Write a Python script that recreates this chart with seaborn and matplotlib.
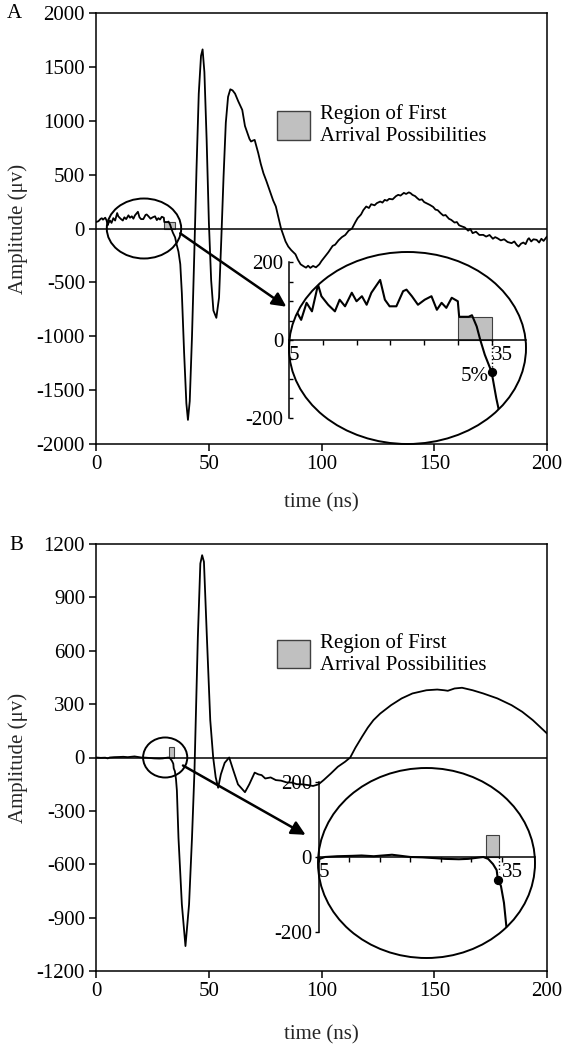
import matplotlib
matplotlib.use("Agg")
import matplotlib.pyplot as plt
import seaborn as sns
from matplotlib.patches import Ellipse, Rectangle, Patch

# ────────── data (time in ns, amplitude in µV) ────────────────────────────────
time_a = [0, 1, 2, 2.5, 3, 4, 4.6,
          5.1, 5.4, 6.1, 6.8, 7.6, 8.4, 9.3, 9.8, 10.8, 11.8, 12.5, 13.3, 14.3, 15,
          15.8, 16.5, 17.2, 18.5, 19.2, 19.9, 20.9, 21.9, 22.4, 23.2, 24.1, 25.1,
          26.1, 26.9, 27.6, 28.3, 29.1, 30.0, 30.2, 31.6, 32.1, 32.8, 33.3, 34.0,
          35.0, 35.7, 36.5, 37.3, 38, 39, 40, 40.7, 41.5, 42.5, 43.5, 44.5, 45.5,
          46.5, 47.2, 48, 49, 50, 51, 52, 53.3, 54.5, 55.5, 56.5, 57.5, 58.5, 59.5,
          60.5, 61.6, 63, 64.8, 66, 67.1, 68, 68.7, 69.5, 70.3, 71.1, 71.9, 73,
          74.2, 75.5, 77.4, 78.5, 79.7, 81, 82, 83, 84, 85.2, 86.5, 88.4, 89.5,
          90.7, 92, 93.1, 94, 95, 96.2, 97.5, 99, 100, 101.7, 103, 104.9, 106,
          107.5, 109, 110.5, 112, 113.5, 115, 116, 117.5, 118.5, 119.8, 121, 122,
          123.5, 124.5, 126, 127, 128, 129, 130, 131.5, 133, 134, 135, 136.5,
          137.5, 138.7, 139.5, 140.3, 141.5, 142.5, 143.4, 144.5, 145.5, 147, 148,
          149.5, 150.5, 151.5, 152.8, 154, 155, 156.5, 157.5, 159, 160, 161, 162.3,
          163.5, 165, 166, 167, 168.5, 170, 171.7, 173, 174.5, 176, 177, 178,
          179.5, 181, 182.5, 184.3, 185.5, 186.5, 187.4, 188.5, 189.5, 190.5,
          191.5, 192, 193, 194, 195.4, 196.5, 197.5, 198.5, 200]
amp_a = [60, 68, 90, 95, 82, 100, 75,
         30, 48, 74, 52, 96, 74, 143, 113, 91, 74, 104, 87, 122, 100,
         113, 91, 122, 155, 104, 87, 87, 126, 130, 113, 91, 104,
         113, 78, 96, 83, 109, 100, 60, 60, 64, 35, 2, -38,
         -82, -150, -215, -330, -600, -1150, -1620, -1774, -1600, -1000, -250, 550, 1250,
         1600, 1660, 1450, 820, 50, -480, -760, -828, -640, -100, 480, 980, 1220, 1290,
         1280, 1250, 1180, 1099, 950, 883, 830, 806, 815, 821, 760, 698, 600,
         512, 440, 327, 260, 204, 90, 0, -60, -120, -167, -200, -239, -290,
         -332, -350, -363, -345, -365, -347, -360, -332, -300, -254, -220, -161, -150,
         -110, -80, -60, -20, 0, 60, 96, 130, 170, 204, 190, 225,
         215, 235, 250, 240, 265, 258, 275, 270, 300, 312, 305, 330,
         320, 335, 327, 312, 300, 280, 265, 270, 245, 230, 219,
         200, 175, 170, 142, 120, 125, 90, 80, 55, 60, 30, 19,
         10, -20, -5, -43, -30, -60, -59, -75, -60, -95, -80, -90,
         -110, -100, -125, -136, -120, -150, -167, -140, -130, -145,
         -100, -90, -120, -100, -105, -130, -95, -115, -74]

time_b = [0, 2, 4, 5.1, 6, 8, 10.4, 12, 14, 17, 18, 20, 22, 24, 25.7, 28, 29.5,
          31, 32, 32.8, 33.6, 34.2, 34.4, 34.9, 35.4, 35.8, 36.5, 38, 39.6, 41.2,
          42.5, 43.6, 45.1, 46.2, 47, 47.8, 49.1, 50.6, 51.9, 53, 54.1, 55.3, 57,
          59, 60.8, 62.9, 66, 67.9, 70.3, 72, 73.4, 75, 77.4, 79.7, 82, 84.5, 86.8,
          89, 91.5, 94, 96.2, 98.6, 100.9, 104.1, 107.2, 110.4, 112.7, 115, 118,
          120.5, 123, 126, 130.8, 135.5, 140.3, 146.5, 151.3, 154.4, 156, 159,
          162.3, 167, 171.7, 178, 184.3, 189, 193.7, 196.9, 200]
amp_b = [0, -2, -1, -5, 0, 2, 3, 4, 2, 6, 4, 0, -1, -3, -5, -6, -5,
         -2, 0, -5, -19, -35, -61, -77, -122, -186, -451, -825, -1060, -825,
         -451, -76, 678, 1090, 1137, 1100, 678, 210, 0, -110, -170, -95, -30,
         0, -71, -151, -195, -151, -85, -95, -99, -118, -112, -127, -130, -140, -141,
         -150, -151, -155, -160, -151, -127, -90, -52, -24, 0, 55, 118,
         168, 210, 247, 294, 332, 360, 378, 382, 378, 375, 388,
         392, 378, 360, 332, 294, 257, 210, 172, 135]

# region of first arrival possibilities: (start, width, height)
region_a = (30, 5, 59)
region_b = (32.5, 2.1, 58)
# 5 % threshold point on each trace
pick_a = (35, -82)
pick_b = (34.4, -61)

x_ticks = [0, 50, 100, 150, 200]
y_ticks_a = [-2000, -1500, -1000, -500, 0, 500, 1000, 1500, 2000]
y_ticks_b = [-1200, -900, -600, -300, 0, 300, 600, 900, 1200]
inset_xticks = [5, 10, 15, 20, 25, 30, 35]
inset_xlabels = ["5", "", "", "", "", "", "35"]

LEGEND_LABEL = "Region of First\nArrival Possibilities"
GREY = "#c0c0c0"
EDGE = "#404040"

W, H = 563, 1050
RIGHT = 547  # right edge of the main axes, px


# ────────── helpers ────────────────────────────────────────────────────────────
def px_axes(fig, x0, y0, x1, y1):
    """Axes from pixel box (top-left origin)."""
    return fig.add_axes([x0 / W, 1 - y1 / H, (x1 - x0) / W, (y1 - y0) / H])


def main_panel(ax, t, amp, yticks, region, small_ell, legend_y, xlabel_y):
    sns.lineplot(x=t, y=amp, ax=ax, color="black", linewidth=1.3,
                 estimator=None, sort=False)
    ax.axhline(0, color="black", linewidth=1.1)
    ax.add_patch(Rectangle((region[0], 0), region[1], region[2],
                           facecolor=GREY, edgecolor=EDGE, linewidth=0.8))
    cx, w, h = small_ell
    ax.add_patch(Ellipse((cx, 0), w, h, fill=False, edgecolor="black",
                         linewidth=1.4))
    ax.set_xlim(0, 200)
    ax.set_ylim(yticks[0], yticks[-1])
    ax.set_xticks(x_ticks)
    ax.set_yticks(yticks)
    for s in ax.spines.values():
        s.set_visible(True)
        s.set_linewidth(1.1)
    ax.tick_params(direction="out", length=5, width=1.1, pad=3, labelsize=15)
    ax.set_xlabel("time (ns)", fontsize=15, va="top")
    ax.xaxis.set_label_coords(0.5, xlabel_y)
    ax.set_ylabel("Amplitude (μv)", fontsize=15)
    ax.yaxis.set_label_coords(-0.152, 0.5)
    ax.legend(handles=[Patch(facecolor=GREY, edgecolor=EDGE, linewidth=1)],
              labels=[LEGEND_LABEL], loc="upper left",
              bbox_to_anchor=(0.4, legend_y), frameon=False, fontsize=15,
              handlelength=1.6, handleheight=1.75, handletextpad=0.5,
              borderpad=0, borderaxespad=0, labelspacing=0)


def inset_panel(ax, t, amp, xlim, ylim, region, pick, yticks, ylabels,
                ydir, dotted_to, pct_label):
    ax.patch.set_visible(False)
    ell = Ellipse((0.5, 0.5), 1, 1, transform=ax.transAxes, fill=False,
                  edgecolor="black", linewidth=1.4, clip_on=False)
    ax.add_patch(ell)
    ax.add_patch(Rectangle((region[0], 0), region[1], region[2],
                           facecolor=GREY, edgecolor=EDGE, linewidth=0.8))
    sns.lineplot(x=t, y=amp, ax=ax, color="black", linewidth=1.5,
                 estimator=None, sort=False)
    ax.lines[-1].set_clip_path(ell)
    ax.plot([region[0] + region[1]] * 2, [0, dotted_to], color="black",
            linestyle=":", linewidth=1)
    ax.scatter([pick[0]], [pick[1]], s=32, color="black", zorder=5)
    if pct_label:
        ax.text(pick[0] - 0.4, pick[1] - 12, pct_label, ha="right",
                va="center", fontsize=15)
    ax.set_xlim(*xlim)
    ax.set_ylim(*ylim)
    ax.spines["top"].set_visible(False)
    ax.spines["right"].set_visible(False)
    ax.spines["left"].set_position(("data", 5))
    ax.spines["left"].set_bounds(-200, 200)
    ax.spines["bottom"].set_position(("data", 0))
    ax.spines["bottom"].set_bounds(5, xlim[1])
    for s in ("left", "bottom"):
        ax.spines[s].set_linewidth(1.1)
    ax.set_xticks(inset_xticks)
    ax.set_xticklabels(inset_xlabels)
    plt.setp(ax.get_xticklabels(), ha="left")
    ax.set_yticks(yticks)
    ax.set_yticklabels(ylabels)
    ax.tick_params(axis="x", direction="out", length=3.5, width=1, pad=0.5,
                   labelsize=15)
    ax.tick_params(axis="y", direction=ydir, length=3, width=1,
                   pad=4 if ydir == "in" else 2, labelsize=15)
    ax.set_xlabel("")
    ax.set_ylabel("")


# ────────── main ───────────────────────────────────────────────────────────────
def main() -> None:
    sns.set_style("ticks")
    plt.rcParams["font.family"] = ["Liberation Serif", "DejaVu Serif"]
    plt.rcParams["axes.unicode_minus"] = False
    plt.rcParams["text.color"] = "black"
    plt.rcParams["xtick.color"] = "black"
    plt.rcParams["ytick.color"] = "black"
    plt.rcParams["axes.edgecolor"] = "black"

    fig = plt.figure(figsize=(W / 100, H / 100), dpi=100)

    ax_a = px_axes(fig, 96.2, 12.7, RIGHT, 444.3)
    ax_b = px_axes(fig, 96.2, 544, RIGHT, 971)

    main_panel(ax_a, time_a, amp_a, y_ticks_a, region_a, (21.2, 33, 556),
               0.788, -0.113)
    main_panel(ax_b, time_b, amp_b, y_ticks_b, region_b, (30.6, 19.6, 225),
               0.792, -0.128)

    in_a = px_axes(fig, 289, 252, 526, 444)
    in_b = px_axes(fig, 318, 768, 535, 958)

    a_labels = ["-200", "", "", "", "0", "", "", "", "200"]
    inset_panel(in_a, time_a, amp_a, (5, 40.1), (-268, 227), region_a, pick_a,
                list(range(-200, 201, 50)), a_labels, "in", pick_a[1], "5%")
    inset_panel(in_b, time_b, amp_b, (4.84, 40.5), (-269, 237), region_b,
                pick_b, [-200, 0, 200], ["-200", "0", "200"], "out", -40, None)

    arrow = dict(arrowstyle="-|>,head_length=0.7,head_width=0.35",
                 color="black", linewidth=1.8, mutation_scale=12,
                 shrinkA=0, shrinkB=0)
    ax_a.annotate("", xy=(4.6, 86), xycoords=in_a.transData,
                  xytext=(37.3, -45), textcoords="data", arrowprops=arrow)
    ax_b.annotate("", xy=(2.8, 59), xycoords=in_b.transData,
                  xytext=(38.5, -45), textcoords="data", arrowprops=arrow)

    fig.text(14 / W, 1 - 14 / H, "A", ha="center", va="center", fontsize=15)
    fig.text(16 / W, 1 - 545 / H, "B", ha="center", va="center", fontsize=15)

    fig.savefig("out.png", dpi=100)
    plt.close(fig)


if __name__ == "__main__":
    main()
